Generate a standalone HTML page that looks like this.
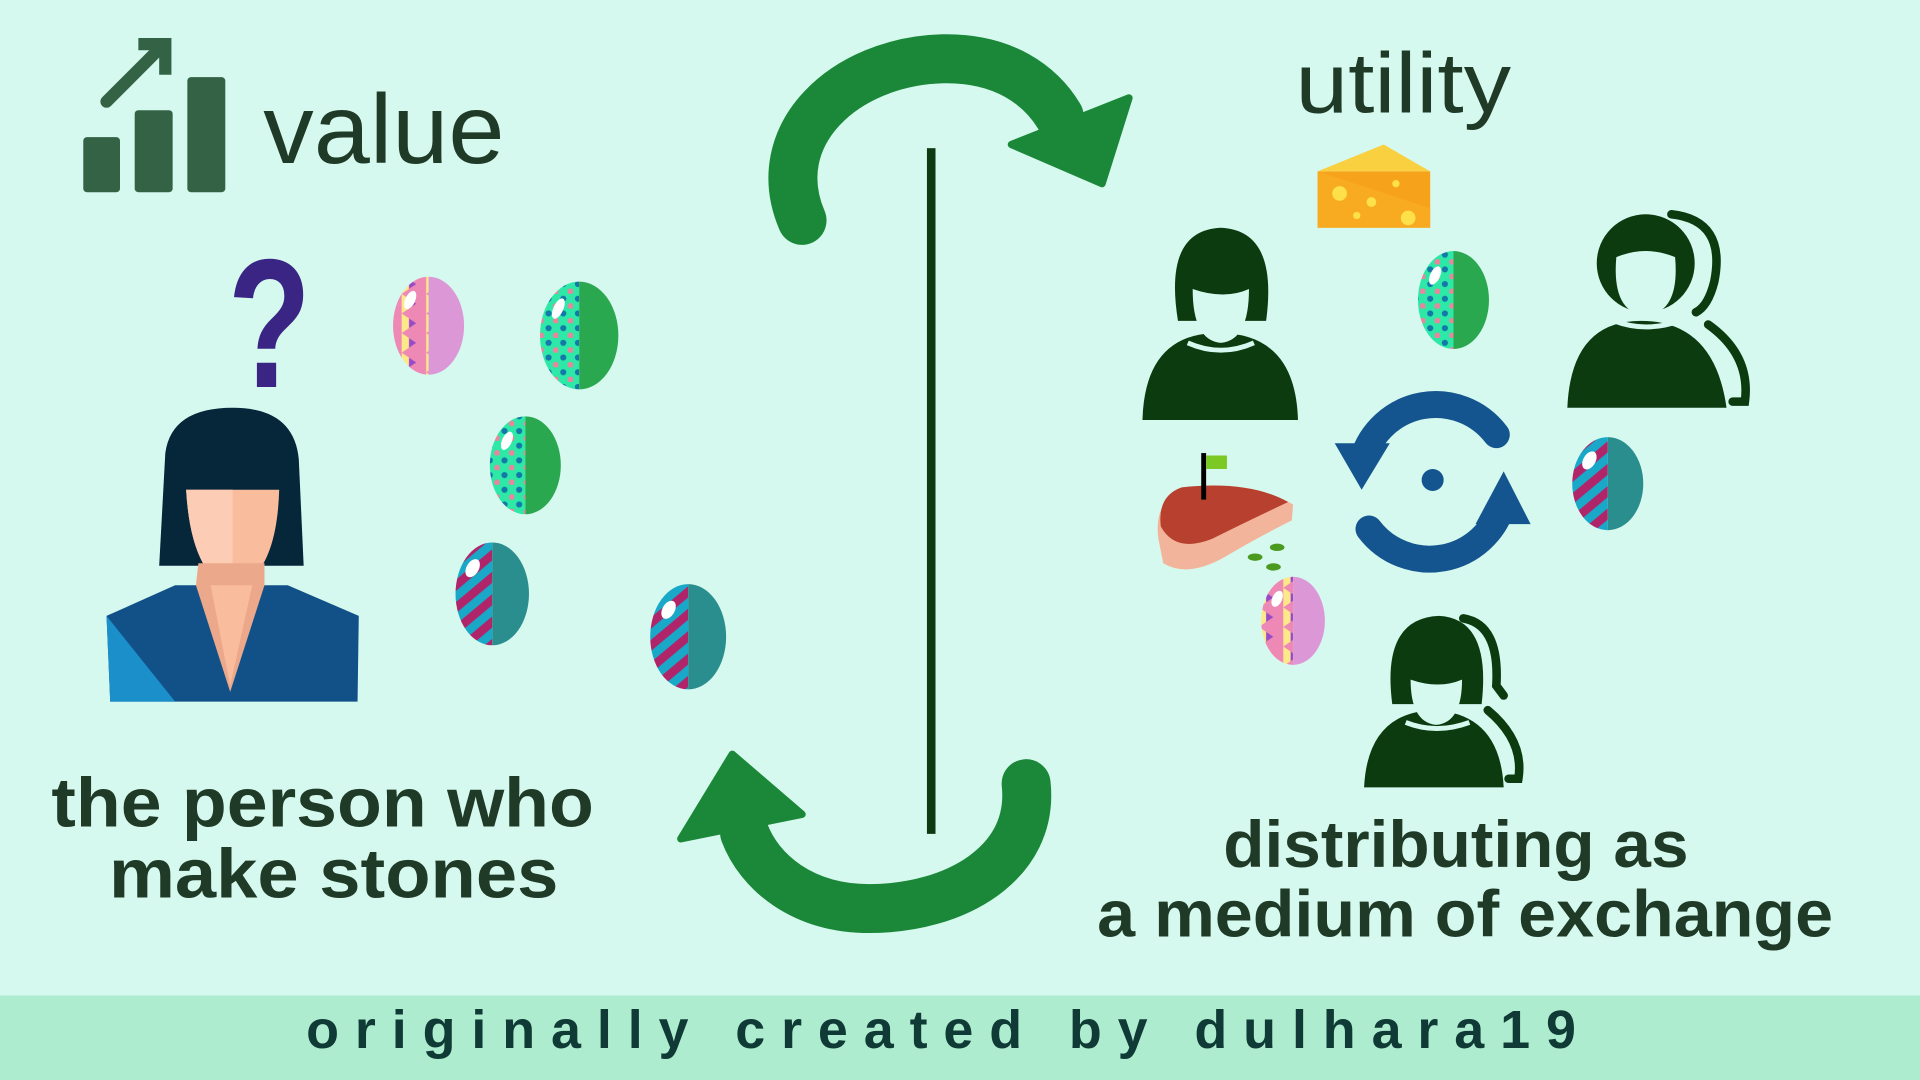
<!DOCTYPE html>
<html><head><meta charset="utf-8"><style>
html,body{margin:0;padding:0;background:#d6f9ef;}
svg{display:block;}
text{font-family:"Liberation Sans",sans-serif;}
</style></head><body>
<svg width="1920" height="1080" viewBox="0 0 1568 882" xmlns="http://www.w3.org/2000/svg">
<rect width="1568" height="882" fill="#d6f9ef"/>
<rect y="813" width="1568" height="69" fill="#aeeccf"/>
<text x="250" y="856" font-size="44" font-weight="bold" fill="#0f3a35" textLength="1037" lengthAdjust="spacing">originally created by dulhara19</text>

<!-- value icon -->
<g fill="#336244">
<rect x="68" y="112" width="30" height="45" rx="3"/>
<rect x="110" y="90" width="31" height="67" rx="3"/>
<rect x="153" y="63" width="31" height="94" rx="3"/>
</g>
<g stroke="#336244" stroke-width="10" stroke-linecap="round" fill="none">
<line x1="87" y1="83" x2="130" y2="40"/>
<polyline points="118,36 135,36 135,56" stroke-linecap="square"/>
</g>
<text x="215" y="133" font-size="80" fill="#1f3a26" textLength="197" lengthAdjust="spacingAndGlyphs">value</text>
<text x="1058" y="92" font-size="70" fill="#1f3a26" textLength="176" lengthAdjust="spacingAndGlyphs">utility</text>

<!-- question mark -->
<text x="186" y="316" font-size="150" font-weight="bold" fill="#3a2585" textLength="68" lengthAdjust="spacingAndGlyphs">?</text>

<!-- woman left -->
<path d="M130,462 L135,370 Q140,333 190,333 Q240,333 244,375 L248,462 Z" fill="#06263a"/>
<path d="M152,400 L228,400 Q226,470 190,482 Q156,470 152,400 Z" fill="#f9bc9c"/>
<path d="M152,400 L190,400 L190,482 Q156,470 152,400 Z" fill="#fcccb4"/>
<path d="M87,503 L143,478 L235,478 L293,503 L292,573 L90,573 Z" fill="#115188"/>
<path d="M87,503 L143,573 L90,573 Z" fill="#1b8fca"/>
<path d="M162,460 L216,460 L216,478 L188,565 L160,478 Z" fill="#eba88a"/>
<path d="M172,478 L206,478 L188,560 Z" fill="#f9bc9c"/>

<!-- arrows -->
<g fill="none" stroke="#1a8838" stroke-width="40" stroke-linecap="round">
<path d="M655,180 C625,110 690,50 770,48 C820,47 850,70 865,95"/>
<path d="M838,640 C845,705 780,742 710,742 C655,742 620,712 608,680"/>
</g>
<polygon points="826,118 922,80 900,150" fill="#1a8838" stroke="#1a8838" stroke-width="6" stroke-linejoin="round"/>
<polygon points="556,685 598,616 655,665" fill="#1a8838" stroke="#1a8838" stroke-width="6" stroke-linejoin="round"/>
<rect x="757" y="121" width="7" height="560" fill="#0d3a12"/>

<defs>
<pattern id="dots" width="12" height="12" patternUnits="userSpaceOnUse"><rect width="12" height="12" fill="#2ee8a8"/><circle cx="4" cy="4" r="2.5" fill="#1478a8"/><circle cx="10" cy="10" r="2.5" fill="#e8869c"/></pattern>
<pattern id="stripes" width="14" height="14" patternUnits="userSpaceOnUse" patternTransform="rotate(-40)"><rect width="14" height="14" fill="#1aa8c8"/><rect width="14" height="7" fill="#b0246a"/></pattern>
<pattern id="zig" width="20" height="16" patternUnits="userSpaceOnUse"><rect width="20" height="16" fill="#ee88b5"/><polygon points="8,0 20,8 8,16" fill="#fde88a"/><polygon points="14,4 20,8 14,12" fill="#9a4ac8"/></pattern>
</defs>

<!-- eggs -->
<g>
<path d="M350,226 A29,40 0 0 0 350,306 Z" fill="url(#zig)"/><path d="M350,226 A29,40 0 0 1 350,306 Z" fill="#dc98d6"/>
<ellipse cx="335" cy="245" rx="4" ry="8" fill="#fff" transform="rotate(25 335 245)"/>
<path d="M473,230 A32,44 0 0 0 473,318 Z" fill="url(#dots)"/><path d="M473,230 A32,44 0 0 1 473,318 Z" fill="#2aa84f"/>
<ellipse cx="456" cy="252" rx="4" ry="9" fill="#fff" transform="rotate(25 456 252)"/>
<path d="M429,340 A29,40 0 0 0 429,420 Z" fill="url(#dots)"/><path d="M429,340 A29,40 0 0 1 429,420 Z" fill="#2aa84f"/>
<ellipse cx="414" cy="360" rx="4" ry="8" fill="#fff" transform="rotate(25 414 360)"/>
<path d="M402,443 A30,42 0 0 0 402,527 Z" fill="url(#stripes)"/><path d="M402,443 A30,42 0 0 1 402,527 Z" fill="#2a8d8e"/>
<ellipse cx="386" cy="464" rx="5" ry="8" fill="#fff" transform="rotate(30 386 464)"/>
<path d="M562,477 A31,43 0 0 0 562,563 Z" fill="url(#stripes)"/><path d="M562,477 A31,43 0 0 1 562,563 Z" fill="#2a8d8e"/>
<ellipse cx="546" cy="498" rx="5" ry="8" fill="#fff" transform="rotate(30 546 498)"/>
<path d="M1187,205 A29,40 0 0 0 1187,285 Z" fill="url(#dots)"/><path d="M1187,205 A29,40 0 0 1 1187,285 Z" fill="#2aa84f"/>
<ellipse cx="1172" cy="225" rx="4" ry="8" fill="#fff" transform="rotate(25 1172 225)"/>
<path d="M1313,357 A29,38 0 0 0 1313,433 Z" fill="url(#stripes)"/><path d="M1313,357 A29,38 0 0 1 1313,433 Z" fill="#2a8d8e"/>
<ellipse cx="1298" cy="376" rx="5" ry="8" fill="#fff" transform="rotate(30 1298 376)"/>
<path d="M1056,471 A26,36 0 0 0 1056,543 Z" fill="url(#zig)"/><path d="M1056,471 A26,36 0 0 1 1056,543 Z" fill="#dc98d6"/>
<ellipse cx="1043" cy="489" rx="4" ry="7" fill="#fff" transform="rotate(25 1043 489)"/>
</g>

<!-- cheese -->
<polygon points="1076,140 1130,118 1168,140" fill="#f8d040"/>
<rect x="1076" y="140" width="92" height="46" fill="#f7a21b"/>
<polygon points="1076,140 1168,170 1168,186 1076,186" fill="#f9b024" opacity="0.6"/>
<g fill="#fde04a"><circle cx="1094" cy="158" r="6"/><circle cx="1120" cy="165" r="4"/><circle cx="1150" cy="178" r="6"/><circle cx="1108" cy="176" r="3"/><circle cx="1140" cy="150" r="3"/></g>

<!-- meat -->
<path d="M946,440 Q942,410 965,400 Q1020,392 1056,412 L1055,425 Q1025,440 1000,455 Q970,472 950,460 Z" fill="#f2b49a"/>
<path d="M948,430 Q945,405 965,398 Q1020,392 1052,410 Q1020,425 990,440 Q960,452 948,430 Z" fill="#b8402e"/>
<rect x="981" y="370" width="4" height="38" fill="#000"/>
<rect x="985" y="372" width="17" height="11" fill="#7cc824"/>
<g fill="#4a9a20"><ellipse cx="1025" cy="455" rx="6" ry="3"/><ellipse cx="1043" cy="447" rx="6" ry="3"/><ellipse cx="1040" cy="463" rx="6" ry="3"/></g>

<!-- people -->
<g fill="#0c3b10">
<!-- woman 1 -->
<path d="M933,343 Q935,272 995,272 Q1058,272 1060,343 Z"/>
<path d="M962,262 Q950,188 997,186 Q1044,188 1034,262 Z"/>
<path d="M974,236 Q974,278 997,280 Q1020,278 1020,236 Q1000,245 974,236 Z" fill="#d6f9ef"/>
<path d="M970,280 Q997,292 1024,280" fill="none" stroke="#d6f9ef" stroke-width="4"/>
<!-- man -->
<path d="M1280,333 Q1283,262 1340,262 Q1400,262 1410,333 Z"/>
<circle cx="1344" cy="215" r="40"/>
<path d="M1320,210 Q1344,200 1368,210 Q1372,255 1344,258 Q1316,255 1320,210 Z" fill="#d6f9ef"/>
<path d="M1318,262 Q1344,272 1372,262" fill="none" stroke="#d6f9ef" stroke-width="4"/>
<path d="M1365,175 Q1410,180 1400,230 Q1395,250 1385,255" fill="none" stroke="#0c3b10" stroke-width="7" stroke-linecap="round"/>
<path d="M1395,265 Q1430,290 1425,328 L1415,328" fill="none" stroke="#0c3b10" stroke-width="7" stroke-linecap="round"/>
<!-- woman 2 -->
<path d="M1114,643 Q1117,582 1170,580 Q1225,582 1228,643 Z"/>
<path d="M1137,575 Q1128,505 1175,503 Q1218,505 1210,575 Z"/>
<path d="M1152,555 Q1152,590 1173,592 Q1194,590 1194,555 Q1175,563 1152,555 Z" fill="#d6f9ef"/>
<path d="M1148,590 Q1173,600 1200,590" fill="none" stroke="#d6f9ef" stroke-width="4"/>
<path d="M1195,505 Q1225,510 1222,560 L1228,568" fill="none" stroke="#0c3b10" stroke-width="7" stroke-linecap="round"/>
<path d="M1215,580 Q1245,605 1240,636 L1232,636" fill="none" stroke="#0c3b10" stroke-width="7" stroke-linecap="round"/>
</g>

<!-- sync -->
<g fill="none" stroke="#14558f" stroke-width="22" stroke-linecap="round">
<path d="M1113,375 A62,62 0 0 1 1222,355"/>
<path d="M1227,412 A62,62 0 0 1 1118,432"/>
</g>
<polygon points="1090,362 1135,362 1112,400" fill="#14558f"/>
<polygon points="1250,428 1205,428 1228,385" fill="#14558f"/>
<circle cx="1170" cy="392" r="9" fill="#14558f"/>

<!-- labels -->
<g font-weight="bold" fill="#1f3a26" font-size="57">
<text x="42" y="675" textLength="443" lengthAdjust="spacingAndGlyphs">the person who</text>
<text x="89" y="733" textLength="367" lengthAdjust="spacingAndGlyphs">make stones</text>
<text x="999" y="708" font-size="54" textLength="380" lengthAdjust="spacingAndGlyphs">distributing as</text>
<text x="896" y="765" font-size="54" textLength="601" lengthAdjust="spacingAndGlyphs">a medium of exchange</text>
</g>
</svg>
</body></html>
